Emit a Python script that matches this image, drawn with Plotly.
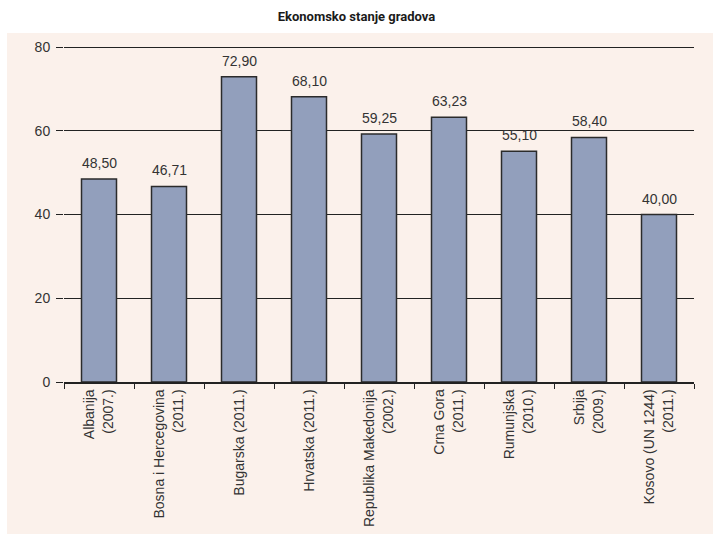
import plotly.graph_objects as go

categories = [
    "Albanija<br>(2007.)",
    "Bosna i Hercegovina<br>(2011.)",
    "Bugarska (2011.)",
    "Hrvatska (2011.)",
    "Republika Makedonija<br>(2002.)",
    "Crna Gora<br>(2011.)",
    "Rumunjska<br>(2010.)",
    "Srbija<br>(2009.)",
    "Kosovo (UN 1244)<br>(2011.)",
]
values = [48.50, 46.71, 72.90, 68.10, 59.25, 63.23, 55.10, 58.40, 40.00]
labels = [f"{v:.2f}".replace(".", ",") for v in values]
y_ticks = [0, 20, 40, 60, 80]

FONT = "Liberation Sans, Arial"
PLOT_H = 338  # plot area height in px (top 3px above the 80 line)

fig = go.Figure(go.Bar(
    x=categories, y=values,
    marker=dict(color="#929FBC", line=dict(color="#2b2b2b", width=1.5)),
    hoverinfo="skip",
))

annotations = [
    dict(x=c, y=v, text=t, showarrow=False, xref="x", yref="y",
         yanchor="bottom", yshift=6,
         font=dict(family=FONT, size=14, color="#333333"))
    for c, v, t in zip(categories, values, labels)
]

fig.update_layout(
    width=713, height=534,
    margin=dict(l=64, r=19, t=44, b=152, autoexpand=False),
    paper_bgcolor="white", plot_bgcolor="white",
    bargap=0.5,
    showlegend=False,
    annotations=annotations,
    title=dict(text="<b>Ekonomsko stanje gradova</b>", x=0.5, xanchor="center",
               y=1 - 16 / 534, yanchor="middle",
               font=dict(family="Roboto, Arial", size=13, color="#1a1a1a")),
    shapes=[dict(type="rect", xref="paper", yref="paper",
                 x0=-57 / 630, x1=1 + 19 / 630, y0=-152 / PLOT_H, y1=1 + 11 / PLOT_H,
                 fillcolor="#FBF1EB", line=dict(width=0), layer="below")],
    font=dict(family=FONT, size=14, color="#333333"),
)
fig.update_xaxes(
    tickangle=-90, tickson="boundaries", ticks="outside", ticklen=5,
    tickcolor="#222222", showline=True, linecolor="#222222", linewidth=1.5,
    showgrid=False, automargin=False,
    tickfont=dict(family=FONT, size=14, color="#333333"),
)
fig.update_yaxes(
    range=[0, 80 * PLOT_H / 335], tickvals=y_ticks, ticks="outside", ticklen=7,
    tickcolor="#222222", showgrid=True, gridcolor="#222222", gridwidth=1,
    showline=False, zeroline=False, automargin=False, ticklabelstandoff=3,
    tickfont=dict(family=FONT, size=14, color="#333333"),
)

fig.write_html("out.html", config={"displayModeBar": False},
               post_script="document.body.style.margin='0';")
